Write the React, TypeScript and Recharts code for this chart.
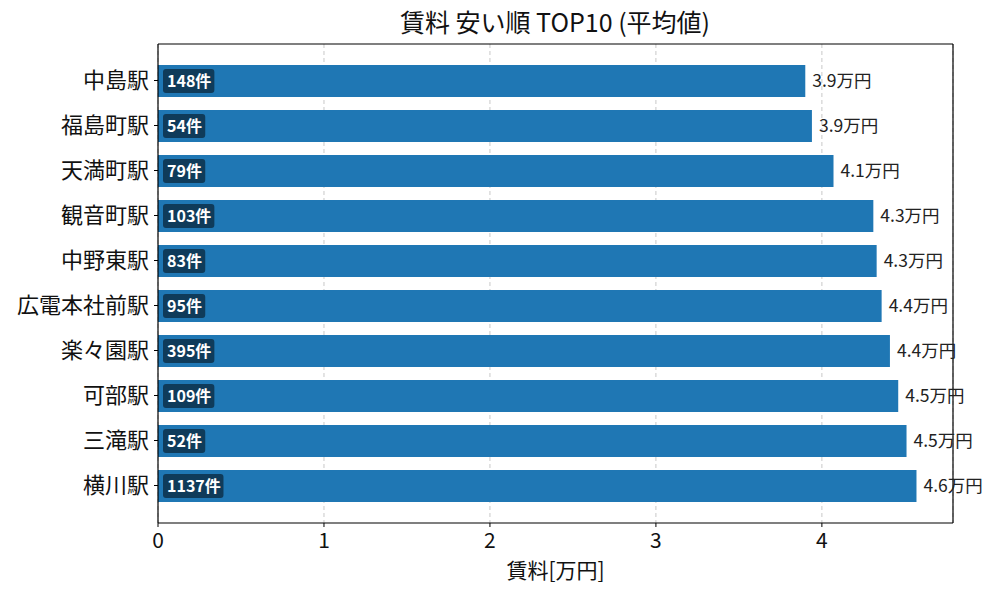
import React from 'react';
import { BarChart, Bar, XAxis, YAxis, CartesianGrid, LabelList, Label } from 'recharts';

const stations = ['中島駅', '福島町駅', '天満町駅', '観音町駅', '中野東駅', '広電本社前駅', '楽々園駅', '可部駅', '三滝駅', '横川駅'];
const rents = [3.9, 3.94, 4.07, 4.31, 4.33, 4.36, 4.41, 4.46, 4.51, 4.57];
const counts = [148, 54, 79, 103, 83, 95, 395, 109, 52, 1137];
const xTicks = [0, 1, 2, 3, 4];
const xMax = 4.79;

const data = stations.map((name, i) => ({ name, value: rents[i], count: counts[i] }));

const FONT = '"Noto Sans CJK JP", "Noto Sans", sans-serif';

const CountBadge = (props: any) => {
  const { x, y, height, value } = props;
  const fs = 16;
  const text = `${value}件`;
  const digits = String(value).length;
  const tw = digits * fs * 0.57 + fs;
  const bw = tw + 8;
  const bh = 24;
  const bx = x + 5;
  const by = y + height / 2 - bh / 2;
  return (
    <g>
      <rect x={bx} y={by} width={bw} height={bh} rx={3} ry={3} fill="#0f3b5a" />
      <text x={bx + 4} y={y + height / 2} dy="0.35em" fill="#fff" fontSize={fs} fontWeight="bold" fontFamily={FONT}>
        {text}
      </text>
    </g>
  );
};

const ValueLabel = (props: any) => {
  const { x, y, width, height, value } = props;
  return (
    <text x={x + width + 7} y={y + height / 2} dy="0.35em" fill="#222" fontSize={17.5} fontFamily={FONT}>
      {`${Number(value).toFixed(1)}万円`}
    </text>
  );
};

export default function App() {
  return (
    <div style={{ position: 'fixed', left: 0, top: 0, width: 1000, height: 600, background: '#fff' }}>
      <BarChart
        width={1000}
        height={600}
        data={data}
        layout="vertical"
        margin={{ top: 43, right: 46, left: 0, bottom: 7 }}
        style={{ fontFamily: FONT }}
      >
        <text x={555} y={25} textAnchor="middle" dominantBaseline="middle" fontSize={25} fill="#111" fontFamily={FONT}>
          賃料 安い順 TOP10 (平均値)
        </text>
        <CartesianGrid horizontal={false} strokeDasharray="4 3" stroke="#c8c8c8" />
        <XAxis
          type="number"
          domain={[0, xMax]}
          ticks={xTicks}
          allowDataOverflow
          height={70}
          tickSize={4}
          tickMargin={6}
          stroke="#000"
          tick={{ fill: '#111', fontSize: 21, fontFamily: FONT }}
          axisLine={{ stroke: '#000', strokeWidth: 1.2 }}
          tickLine={{ stroke: '#000' }}
        >
          <Label value="賃料[万円]" position="insideBottom" offset={15} fill="#111" fontSize={21} fontFamily={FONT} />
        </XAxis>
        <XAxis
          xAxisId="top"
          orientation="top"
          type="number"
          domain={[0, xMax]}
          height={1}
          tick={false}
          tickLine={false}
          axisLine={{ stroke: '#000', strokeWidth: 1.2 }}
        />
        <YAxis
          type="category"
          dataKey="name"
          width={158}
          padding={{ top: 14, bottom: 15 }}
          tickSize={4}
          tickMargin={5}
          interval={0}
          tick={{ fill: '#111', fontSize: 22, fontFamily: FONT }}
          axisLine={{ stroke: '#000', strokeWidth: 1.2 }}
          tickLine={{ stroke: '#000' }}
        />
        <YAxis
          yAxisId="right"
          orientation="right"
          type="category"
          dataKey="name"
          width={1}
          tick={false}
          tickLine={false}
          axisLine={{ stroke: '#000', strokeWidth: 1.2 }}
        />
        <Bar dataKey="value" fill="#1f77b4" barSize={32} isAnimationActive={false}>
          <LabelList dataKey="count" content={CountBadge} />
          <LabelList dataKey="value" content={ValueLabel} />
        </Bar>
      </BarChart>
    </div>
  );
}
